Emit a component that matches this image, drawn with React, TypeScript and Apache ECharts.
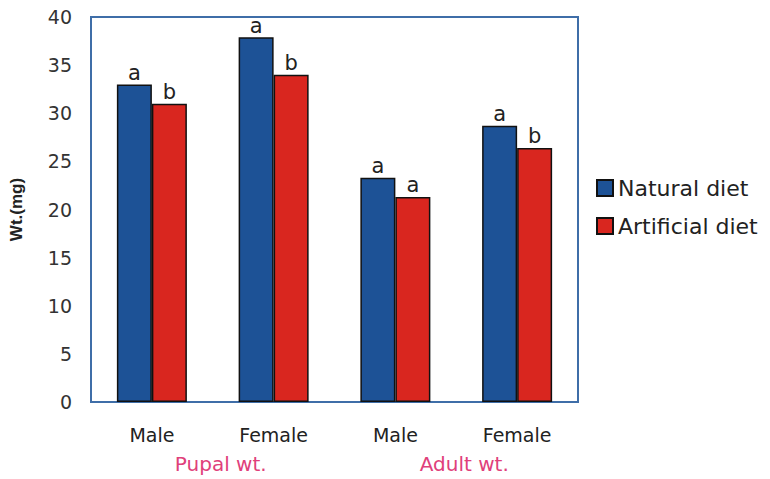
import React, { useEffect, useRef } from "react";
import * as echarts from "echarts";

const categories = ["Male", "Female", "Male", "Female"];
const groups = ["Pupal wt.", "Adult wt."];
const naturalDiet = [33.0, 37.9, 23.3, 28.7];
const artificialDiet = [31.0, 34.0, 21.3, 26.4];
const naturalLetters = ["a", "a", "a", "a"];
const artificialLetters = ["b", "b", "a", "b"];
const yTicks = [0, 5, 10, 15, 20, 25, 30, 35, 40];

export default function App() {
  const ref = useRef<HTMLDivElement>(null);
  useEffect(() => {
    if (!ref.current) return;
    const chart = echarts.init(ref.current, null, { renderer: "svg" });
    const font = "DejaVu Sans, Liberation Sans, Arial, sans-serif";
    chart.setOption({
      animation: false,
      backgroundColor: "#ffffff",
      textStyle: { fontFamily: font },
      grid: {
        left: 89,
        top: 17,
        width: 489,
        height: 385,
        show: true,
        borderColor: "#3f6ea8",
        borderWidth: 2,
        backgroundColor: "transparent",
      },
      legend: {
        orient: "vertical",
        left: 591,
        top: 172,
        itemWidth: 16,
        itemHeight: 16,
        itemGap: 16,
        icon: "rect",
        textStyle: { fontSize: 22, color: "#222", fontFamily: font },
        data: ["Natural diet", "Artificial diet"],
      },
      xAxis: [
        {
          type: "category",
          data: categories,
          position: "bottom",
          axisLine: { show: false },
          axisTick: { show: false },
          axisLabel: { fontSize: 19, color: "#222", margin: 23 },
        },
        {
          type: "category",
          data: groups,
          position: "bottom",
          offset: 52,
          axisLine: { show: false },
          axisTick: { show: false },
          axisLabel: { fontSize: 20, color: "#e0407a", margin: 0, padding: [0, 0, 0, 16] },
        },
      ],
      yAxis: {
        type: "value",
        min: 0,
        max: 40,
        interval: 5,
        name: "Wt.(mg)",
        nameLocation: "middle",
        nameGap: 66,
        nameTextStyle: { fontSize: 17, fontWeight: "bold", color: "#222", fontFamily: "Liberation Sans, Arial, sans-serif" },
        axisLine: { show: false },
        axisTick: { show: false },
        splitLine: { show: false },
        axisLabel: {
          fontSize: 19,
          color: "#333",
          margin: 19,
          formatter: (v: number) => (yTicks.includes(v) ? String(v) : ""),
        },
      },
      series: [
        {
          name: "Natural diet",
          type: "bar",
          xAxisIndex: 0,
          barWidth: 35,
          barGap: "0%",
          itemStyle: { color: "#1d5296", borderColor: "#111", borderWidth: 1.5 },
          label: {
            show: true,
            position: "top",
            distance: 1,
            fontSize: 21,
            color: "#222",
            formatter: (p: any) => naturalLetters[p.dataIndex],
          },
          data: naturalDiet,
        },
        {
          name: "Artificial diet",
          type: "bar",
          xAxisIndex: 0,
          barWidth: 35,
          barGap: "0%",
          itemStyle: { color: "#d9261f", borderColor: "#111", borderWidth: 1.5 },
          label: {
            show: true,
            position: "top",
            distance: 1,
            fontSize: 21,
            color: "#222",
            formatter: (p: any) => artificialLetters[p.dataIndex],
          },
          data: artificialDiet,
        },
      ],
    });
    return () => chart.dispose();
  }, []);
  return <div ref={ref} style={{ width: 770, height: 479, position: "absolute", left: 0, top: 0 }} />;
}
